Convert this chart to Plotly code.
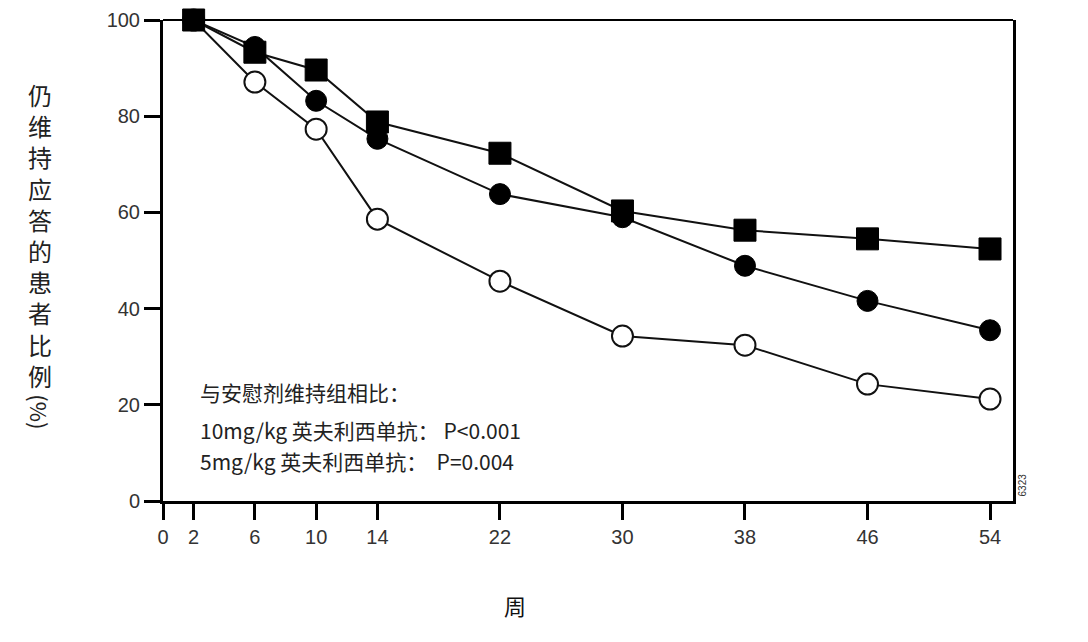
import plotly.graph_objects as go

# weeks of follow-up
weeks = [2, 6, 10, 14, 22, 30, 38, 46, 54]

# % of patients still in response
ifx_10mg = [100, 93.3, 89.6, 78.8, 72.3, 60.3, 56.3, 54.5, 52.4]
ifx_5mg = [100, 94.4, 83.2, 75.3, 63.8, 59.0, 48.9, 41.6, 35.5]
placebo = [100, 87.1, 77.3, 58.6, 45.7, 34.3, 32.4, 24.3, 21.2]

x_ticks = [0, 2, 6, 10, 14, 22, 30, 38, 46, 54]
y_ticks = [0, 20, 40, 60, 80, 100]

y_title_chars = list("仍维持应答的患者比例")
note_lines = [
    "与安慰剂维持组相比：",
    "10mg/kg 英夫利西单抗： P<0.001",
    "5mg/kg 英夫利西单抗：  P=0.004",
]

fig = go.Figure()

# placebo drawn first so filled symbols sit on top
fig.add_trace(go.Scatter(
    x=weeks, y=placebo, mode="lines+markers", cliponaxis=False,
    line=dict(color="#111", width=2),
    marker=dict(symbol="circle", size=21, color="white", line=dict(color="#111", width=2)),
))
fig.add_trace(go.Scatter(
    x=weeks, y=ifx_5mg, mode="lines+markers", cliponaxis=False,
    line=dict(color="#111", width=2),
    marker=dict(symbol="circle", size=21, color="black", line=dict(color="black", width=1)),
))
fig.add_trace(go.Scatter(
    x=weeks, y=ifx_10mg, mode="lines+markers", cliponaxis=False,
    line=dict(color="#111", width=2),
    marker=dict(symbol="square", size=22, color="black", line=dict(color="black", width=1)),
))

tick_font = dict(family="Liberation Sans, Arial, sans-serif", size=20, color="#333")

fig.update_layout(
    width=1088, height=642,
    margin=dict(l=155, r=83, t=12, b=149),
    paper_bgcolor="white", plot_bgcolor="white",
    showlegend=False,
    xaxis=dict(
        range=[0, 55.5], tickvals=x_ticks, ticktext=[str(t) for t in x_ticks],
        showgrid=False, zeroline=False, automargin=False,
        showline=True, linecolor="black", linewidth=3,
        ticks="outside", ticklen=16, tickwidth=3, tickcolor="black",
        tickfont=tick_font,
    ),
    yaxis=dict(
        range=[0, 100], tickvals=y_ticks,
        showgrid=False, zeroline=False, automargin=False,
        showline=True, linecolor="black", linewidth=3, mirror=True,
        ticks="outside", ticklen=16, tickwidth=3, tickcolor="black",
        tickfont=tick_font,
    ),
    shapes=[dict(type="line", xref="paper", yref="paper", x0=0, x1=1, y0=1, y1=1,
                 line=dict(color="black", width=2))],
)

# vertical y-axis title, one character per line
fig.add_annotation(
    text="<br>".join(y_title_chars), xref="paper", yref="paper",
    x=-0.145, y=0.553, xanchor="center", yanchor="middle", showarrow=False,
    font=dict(family="Noto Sans CJK SC", size=24, color="#222"),
    align="center",
)
fig.add_annotation(
    text="(%)", xref="paper", yref="paper", textangle=90,
    x=-0.145, y=0.185, xanchor="center", yanchor="middle", showarrow=False,
    font=dict(family="Noto Sans CJK SC", size=22, color="#222"),
)

# x-axis title
fig.add_annotation(
    text="周", xref="paper", yref="paper",
    x=0.414, y=-0.216, xanchor="center", yanchor="middle", showarrow=False,
    font=dict(family="Noto Sans CJK SC", size=22, color="#111"),
)

# significance note
note_y = [0.227, 0.148, 0.083]
for line, yy in zip(note_lines, note_y):
    fig.add_annotation(
        text=line, xref="paper", yref="paper",
        x=0.041, y=yy, xanchor="left", yanchor="middle", showarrow=False,
        font=dict(family="Noto Sans CJK SC", size=21, color="#222"),
    )

# figure id in the corner
fig.add_annotation(
    text="6323", xref="paper", yref="paper", textangle=-90,
    x=1.011, y=0.033, xanchor="center", yanchor="middle", showarrow=False,
    font=dict(family="Liberation Sans, Arial", size=10, color="#333"),
)

fig.write_html("out.html")
